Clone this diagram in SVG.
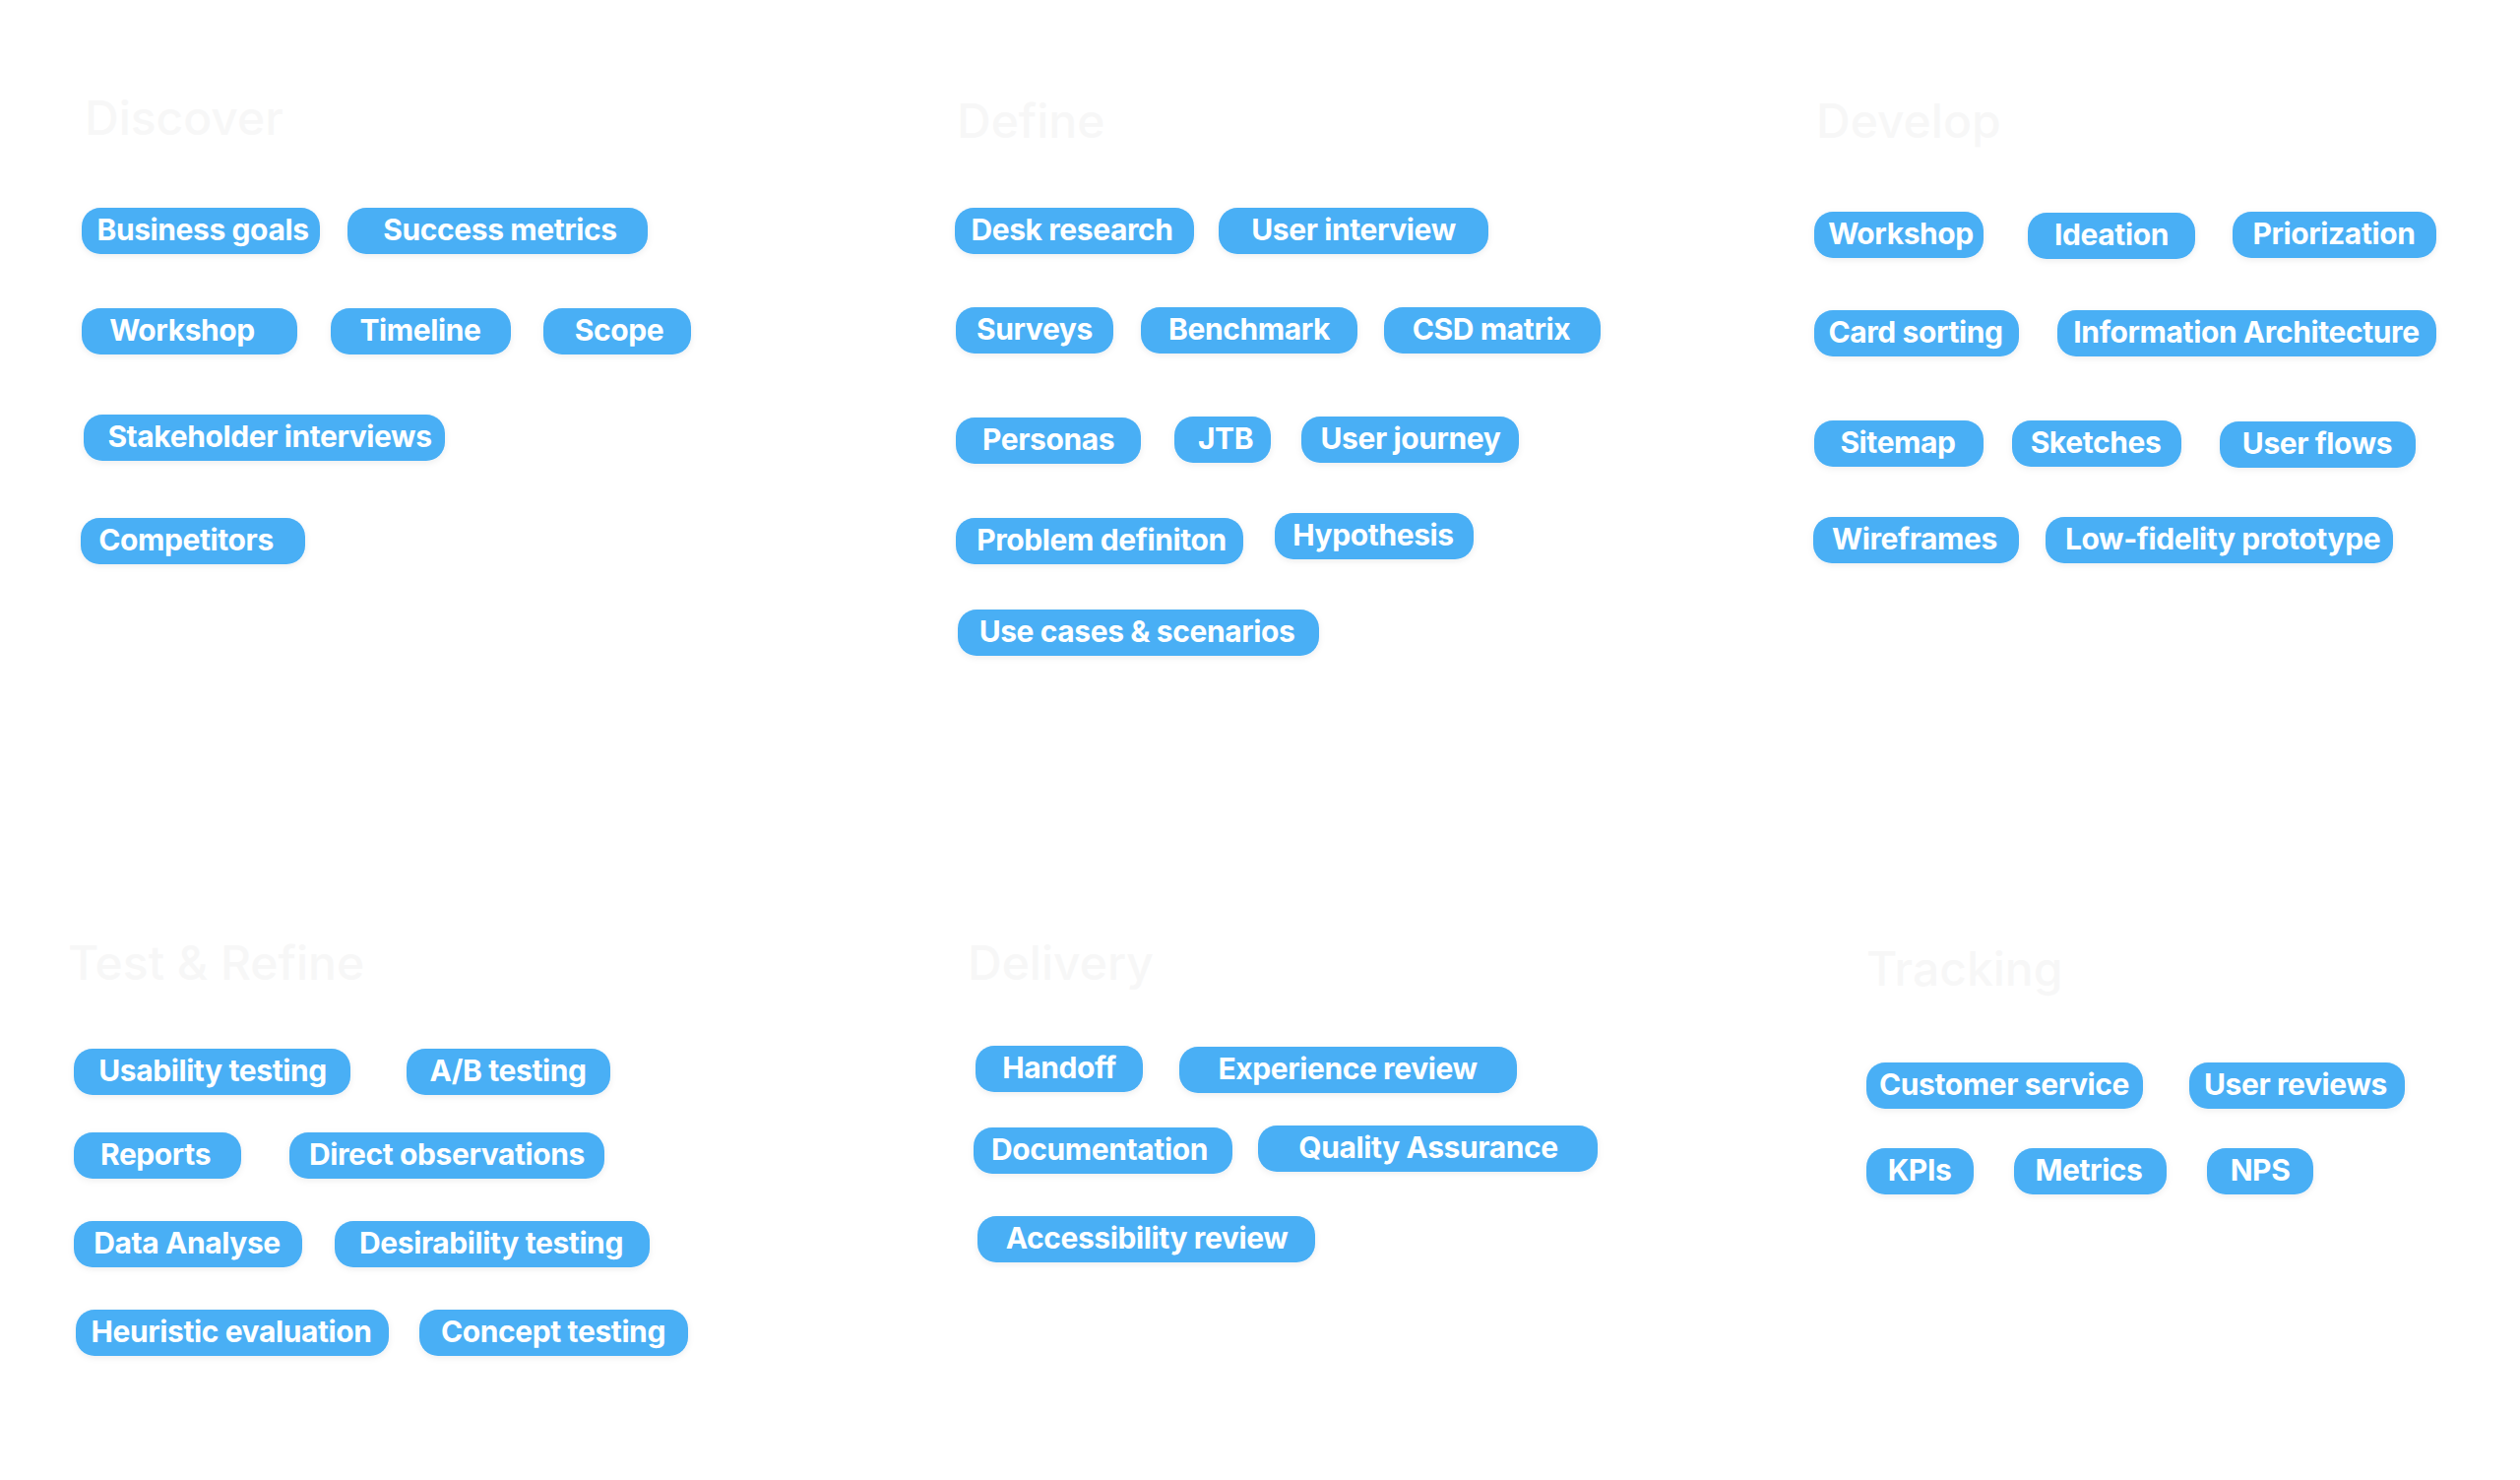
<svg xmlns="http://www.w3.org/2000/svg" width="2560" height="1503" viewBox="0 0 2560 1503">
<defs>
<filter id="sh" x="-10%" y="-30%" width="120%" height="170%">
<feDropShadow dx="0" dy="2" stdDeviation="3" flood-color="#000" flood-opacity="0.07"/>
</filter>
</defs>
<style>
.p rect{fill:#4aaff5;filter:url(#sh)}
.p text{fill:#ffffff;font-family:Inter,"Liberation Sans",sans-serif;font-weight:700;font-size:30px;letter-spacing:-0.4px;text-anchor:middle}
.h{fill:#f7f7f7;font-family:Inter,"Liberation Sans",sans-serif;font-weight:500;font-size:48px}
</style>
<rect width="2560" height="1503" fill="#ffffff"/>
<g id="headings">
<text class="h" x="86" y="137">Discover</text>
<text class="h" x="972" y="140">Define</text>
<text class="h" x="1845" y="140">Develop</text>
<text class="h" x="69" y="995">Test &amp; Refine</text>
<text class="h" x="983" y="995">Delivery</text>
<text class="h" x="1896" y="1001">Tracking</text>
</g>
<g id="connectors"></g>

<g id="n-business-goals" class="p"><rect x="83" y="211" width="242" height="47" rx="19"/><text x="206" y="244">Business goals</text></g>
<g id="n-success-metrics" class="p"><rect x="353" y="211" width="305" height="47" rx="19"/><text x="508" y="244">Success metrics</text></g>
<g id="n-workshop-1" class="p"><rect x="83" y="313" width="219" height="47" rx="19"/><text x="185" y="346">Workshop</text></g>
<g id="n-timeline" class="p"><rect x="336" y="313" width="183" height="47" rx="19"/><text x="427" y="346">Timeline</text></g>
<g id="n-scope" class="p"><rect x="552" y="313" width="150" height="47" rx="19"/><text x="629" y="346">Scope</text></g>
<g id="n-stakeholder" class="p"><rect x="85" y="421" width="367" height="47" rx="19"/><text x="274" y="454">Stakeholder interviews</text></g>
<g id="n-competitors" class="p"><rect x="82" y="526" width="228" height="47" rx="19"/><text x="189" y="559">Competitors</text></g>

<g id="n-desk-research" class="p"><rect x="970" y="211" width="243" height="47" rx="19"/><text x="1089" y="244">Desk research</text></g>
<g id="n-user-interview" class="p"><rect x="1238" y="211" width="274" height="47" rx="19"/><text x="1375" y="244">User interview</text></g>
<g id="n-surveys" class="p"><rect x="971" y="312" width="160" height="47" rx="19"/><text x="1051" y="345">Surveys</text></g>
<g id="n-benchmark" class="p"><rect x="1159" y="312" width="220" height="47" rx="19"/><text x="1269" y="345">Benchmark</text></g>
<g id="n-csd-matrix" class="p"><rect x="1406" y="312" width="220" height="47" rx="19"/><text x="1515" y="345">CSD matrix</text></g>
<g id="n-personas" class="p"><rect x="971" y="424" width="188" height="47" rx="19"/><text x="1065" y="457">Personas</text></g>
<g id="n-jtb" class="p"><rect x="1193" y="423" width="98" height="47" rx="19"/><text x="1245" y="456">JTB</text></g>
<g id="n-user-journey" class="p"><rect x="1322" y="423" width="221" height="47" rx="19"/><text x="1433" y="456">User journey</text></g>
<g id="n-problem" class="p"><rect x="971" y="526" width="292" height="47" rx="19"/><text x="1119" y="559">Problem definiton</text></g>
<g id="n-hypothesis" class="p"><rect x="1295" y="521" width="202" height="47" rx="19"/><text x="1395" y="554">Hypothesis</text></g>
<g id="n-use-cases" class="p"><rect x="973" y="619" width="367" height="47" rx="19"/><text x="1155" y="652">Use cases &amp; scenarios</text></g>

<g id="n-workshop-2" class="p"><rect x="1843" y="215" width="172" height="47" rx="19"/><text x="1931" y="248">Workshop</text></g>
<g id="n-ideation" class="p"><rect x="2060" y="216" width="170" height="47" rx="19"/><text x="2145" y="249">Ideation</text></g>
<g id="n-priorization" class="p"><rect x="2268" y="215" width="207" height="47" rx="19"/><text x="2371" y="248">Priorization</text></g>
<g id="n-card-sorting" class="p"><rect x="1843" y="315" width="208" height="47" rx="19"/><text x="1946" y="348">Card sorting</text></g>
<g id="n-ia" class="p"><rect x="2090" y="315" width="385" height="47" rx="19"/><text x="2282" y="348">Information Architecture</text></g>
<g id="n-sitemap" class="p"><rect x="1843" y="427" width="172" height="47" rx="19"/><text x="1928" y="460">Sitemap</text></g>
<g id="n-sketches" class="p"><rect x="2044" y="427" width="172" height="47" rx="19"/><text x="2129" y="460">Sketches</text></g>
<g id="n-user-flows" class="p"><rect x="2255" y="428" width="199" height="47" rx="19"/><text x="2354" y="461">User flows</text></g>
<g id="n-wireframes" class="p"><rect x="1842" y="525" width="209" height="47" rx="19"/><text x="1945" y="558">Wireframes</text></g>
<g id="n-lofi" class="p"><rect x="2078" y="525" width="353" height="47" rx="19"/><text x="2258" y="558">Low-fidelity prototype</text></g>

<g id="n-usability" class="p"><rect x="75" y="1065" width="281" height="47" rx="19"/><text x="216" y="1098">Usability testing</text></g>
<g id="n-ab" class="p"><rect x="413" y="1065" width="207" height="47" rx="19"/><text x="516" y="1098">A/B testing</text></g>
<g id="n-reports" class="p"><rect x="75" y="1150" width="170" height="47" rx="19"/><text x="158" y="1183">Reports</text></g>
<g id="n-direct-obs" class="p"><rect x="294" y="1150" width="320" height="47" rx="19"/><text x="454" y="1183">Direct observations</text></g>
<g id="n-data-analyse" class="p"><rect x="75" y="1240" width="232" height="47" rx="19"/><text x="190" y="1273">Data Analyse</text></g>
<g id="n-desirability" class="p"><rect x="340" y="1240" width="320" height="47" rx="19"/><text x="499" y="1273">Desirability testing</text></g>
<g id="n-heuristic" class="p"><rect x="77" y="1330" width="318" height="47" rx="19"/><text x="235" y="1363">Heuristic evaluation</text></g>
<g id="n-concept" class="p"><rect x="426" y="1330" width="273" height="47" rx="19"/><text x="562" y="1363">Concept testing</text></g>

<g id="n-handoff" class="p"><rect x="991" y="1062" width="170" height="47" rx="19"/><text x="1076" y="1095">Handoff</text></g>
<g id="n-experience" class="p"><rect x="1198" y="1063" width="343" height="47" rx="19"/><text x="1369" y="1096">Experience review</text></g>
<g id="n-documentation" class="p"><rect x="989" y="1145" width="263" height="47" rx="19"/><text x="1117" y="1178">Documentation</text></g>
<g id="n-qa" class="p"><rect x="1278" y="1143" width="345" height="47" rx="19"/><text x="1451" y="1176">Quality Assurance</text></g>
<g id="n-accessibility" class="p"><rect x="993" y="1235" width="343" height="47" rx="19"/><text x="1165" y="1268">Accessibility review</text></g>

<g id="n-customer" class="p"><rect x="1896" y="1079" width="281" height="47" rx="19"/><text x="2036" y="1112">Customer service</text></g>
<g id="n-user-reviews" class="p"><rect x="2224" y="1079" width="219" height="47" rx="19"/><text x="2332" y="1112">User reviews</text></g>
<g id="n-kpis" class="p"><rect x="1896" y="1166" width="109" height="47" rx="19"/><text x="1950" y="1199">KPIs</text></g>
<g id="n-metrics" class="p"><rect x="2046" y="1166" width="155" height="47" rx="19"/><text x="2122" y="1199">Metrics</text></g>
<g id="n-nps" class="p"><rect x="2242" y="1166" width="108" height="47" rx="19"/><text x="2296" y="1199">NPS</text></g>
</svg>
